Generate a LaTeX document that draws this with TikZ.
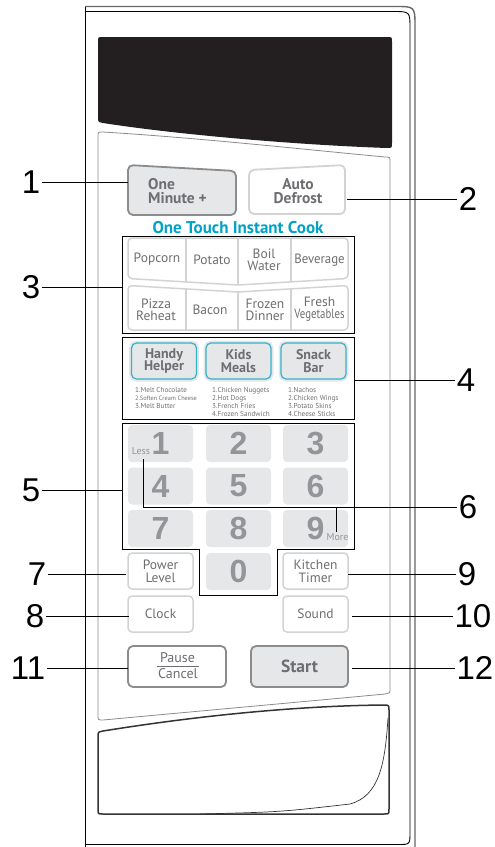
\documentclass[tikz,border=0pt]{standalone}
\usepackage{fontspec}
\setmainfont{PT Sans}
\newfontfamily\arialf{Liberation Sans}
\definecolor{txtgray}{HTML}{6D6E71}
\definecolor{keygray}{HTML}{E6E7E8}
\definecolor{diggray}{HTML}{939598}
\definecolor{brdgray}{HTML}{D1D3D4}
\definecolor{darkbrd}{HTML}{8C8C8C}
\definecolor{panelgray}{HTML}{8A8A8A}
\definecolor{tcyan}{HTML}{00A3C6}
\definecolor{bcyan}{HTML}{35B2CB}
\definecolor{dispblack}{HTML}{231F20}
\begin{document}
\begin{tikzpicture}[x=1pt,y=-1pt,
  callout/.style={font=\arialf\fontsize{33}{33}\selectfont, inner sep=1.5pt, text=black},
  calline/.style={draw=black, line width=0.9pt},
  grpbox/.style={draw=black, line width=0.9pt},
  wbtn/.style={draw=brdgray, line width=1.5pt, fill=white, rounded corners=4pt, minimum width=65pt, minimum height=36pt, inner sep=0pt, font=\fontsize{13.5}{12.6}\selectfont, text=txtgray, align=center},
  numkey/.style={fill=keygray, rounded corners=4pt, minimum width=65pt, minimum height=37pt, inner sep=0pt, font=\arialf\bfseries\fontsize{32}{32}\selectfont, text=diggray},
  cbtn/.style={fill=keygray, draw=bcyan, line width=1.2pt, rounded corners=5pt, minimum width=65pt, minimum height=36pt, inner sep=0pt, preaction={draw=keygray, line width=5pt}, font=\bfseries\fontsize{14}{12.8}\selectfont, text=txtgray, align=center},
  rtxt/.style={font=\fontsize{13.5}{12.3}\selectfont, text=txtgray, align=center, inner sep=0pt},
  btxt/.style={font=\bfseries\fontsize{15.5}{14.5}\selectfont, text=txtgray, inner sep=0pt},
  listtxt/.style={font=\fontsize{7.2}{8}\selectfont, text=txtgray, align=left, anchor=north west, inner sep=0pt},
  smalltxt/.style={font=\fontsize{10}{10}\selectfont, text=diggray, inner sep=0pt},
  sixtick/.style={draw=black, line width=0.9pt}
]
\useasboundingbox (0,0) rectangle (495,847);
% ---------- frame ----------
\draw[black, line width=0.9pt] (85,847) -- (85,6.5);
\draw[black!60, line width=1.4pt] (85,6.5) -- (395,6.5) .. controls (415,6.5) .. (415,26.5) -- (415,847);
\draw[black, line width=0.9pt] (85,11.5) -- (393,11.5) .. controls (410,11.5) .. (410,28.5) -- (410,832) .. controls (410,844.5) .. (398,844.5) -- (85,844.5);
% ---------- display ----------
\fill[dispblack] (98,42) .. controls (98,37) .. (103,37) -- (387,37) .. controls (392,37) .. (392,42) -- (392,143) .. controls (392,148) .. (387,148) .. controls (300,145) and (180,135) .. (103,123) .. controls (98,122) .. (98,117) -- cycle;
% ---------- panel ----------
\draw[panelgray, line width=0.8pt] (98,137) .. controls (98,132) .. (103,132) .. controls (200,138) and (300,149) .. (385,157) .. controls (390,157) .. (390,162) -- (390,688) .. controls (390,693) .. (385,694) .. controls (300,702) and (200,711) .. (103,720) .. controls (98,720) .. (98,715) -- cycle;
% ---------- drawer slot ----------
\draw[black!80, line width=1.5pt] (98,737) .. controls (98,732) .. (103,731) .. controls (190,717) and (290,706) .. (383,705) .. controls (389,705) .. (389,710) -- (389,809) .. controls (389,814) .. (384,814) -- (103,814) .. controls (98,814) .. (98,809) -- cycle;
\draw[black!80, line width=0.7pt] (200,814) .. controls (280,812) .. (350,804) .. controls (379,796) and (385,765) .. (388,718);
% ---------- top buttons ----------
\draw[darkbrd, fill=keygray, line width=1.8pt, rounded corners=5pt] (128,165) -- (236,171) -- (236,215) -- (128,215) -- cycle;
\node[btxt, align=left, anchor=west] (oneminute) at (148,191) {One\\Minute +};
\draw[brdgray, fill=white, line width=1.8pt, rounded corners=5pt] (249,170) -- (345,165) -- (345,214) -- (249,214) -- cycle;
\node[btxt, align=center] (autodefrost) at (298,191) {Auto\\Defrost};
\node[font=\bfseries\fontsize{17}{17}\selectfont, text=tcyan, inner sep=0pt] (onetouch) at (238,228) {One Touch Instant Cook};
% ---------- group 3 ----------
\draw[grpbox] (122,236) rectangle (354,333);
\draw[brdgray, line width=1.5pt, rounded corners=4pt] (128,238) -- (348,238) -- (348,278.5) -- (238,285) -- (128,278.5) -- cycle;
\draw[brdgray, line width=1.5pt, rounded corners=4pt] (128,285.5) -- (238,292) -- (348,285.5) -- (348,330) -- (128,330) -- cycle;
\draw[brdgray, line width=1.5pt] (186,238) -- (186,282) (238,238) -- (238,285) (291,238) -- (291,282);
\draw[brdgray, line width=1.5pt] (186,289) -- (186,330) (238,292) -- (238,330) (291,289) -- (291,330);
\node[rtxt] (popcorn) at (157,259) {Popcorn};
\node[rtxt] (potato) at (212,259.5) {Potato};
\node[rtxt] (boil) at (264,260) {Boil\\Water};
\node[rtxt] (beverage) at (319.5,260.5) {\scalebox{0.95}[1]{Beverage}};
\node[rtxt] (pizza) at (156,309.5) {Pizza\\Reheat};
\node[rtxt] (bacon) at (210,310) {Bacon};
\node[rtxt] (frozen) at (265,309.5) {Frozen\\Dinner};
\node[rtxt] (fresh) at (319.5,309.5) {Fresh\\\scalebox{0.8}[1]{Vegetables}};
% ---------- group 4 ----------
\draw[grpbox] (122,337) rectangle (354,419);
\node[cbtn] (handy) at (164,361) {Handy\\Helper};
\node[cbtn] (kids) at (238.5,361) {Kids\\Meals};
\node[cbtn] (snack) at (313.5,361) {Snack\\Bar};
\node[listtxt] (handylist) at (135,387.2) {1.Melt Chocolate\\{\fontsize{6.3}{8}\selectfont 2.Soften Cream Cheese}\\3.Melt Butter};
\node[listtxt] (kidslist) at (212,387.2) {1.Chicken Nuggets\\2.Hot Dogs\\3.French Fries\\4.Frozen Sandwich};
\node[listtxt] (snacklist) at (288,387.2) {1.Nachos\\2.Chicken Wings\\3.Potato Skins\\4.Cheese Sticks};
% ---------- keypad ----------
\draw[grpbox] (122,423) -- (354,423) -- (354,549) -- (277,549) -- (277,595) -- (199,595) -- (199,549) -- (122,549) -- cycle;
\node[numkey] (k1) at (160.5,443.5) {1};
\node[numkey] (k2) at (238.5,443.5) {2};
\node[numkey] (k3) at (315.5,443.5) {3};
\node[numkey] (k4) at (160.5,486) {4};
\node[numkey] (k5) at (238.5,486) {5};
\node[numkey] (k6) at (315.5,486) {6};
\node[numkey] (k7) at (160.5,528.5) {7};
\node[numkey] (k8) at (238.5,528.5) {8};
\node[numkey] (k9) at (315.5,528.5) {9};
\node[numkey] (k0) at (238.5,571.5) {0};
\node[smalltxt] (less) at (141,451.5) {Less};
\node[smalltxt] (more) at (337.5,537) {More};
% ---------- lower buttons ----------
\node[wbtn] (power) at (160.5,571) {Power\\Level};
\node[wbtn] (clock) at (160.5,614) {Clock};
\node[wbtn] (kitchen) at (315.5,571) {Kitchen\\Timer};
\node[wbtn] (sound) at (315.5,614) {Sound};
\node[draw=darkbrd, line width=1.8pt, fill=white, rounded corners=5pt, minimum width=98pt, minimum height=41pt] (pause) at (177,666.5) {};
\node[rtxt, font=\fontsize{14}{14}\selectfont] (pausetxt) at (177.5,658) {Pause};
\node[rtxt, font=\fontsize{14}{14}\selectfont] (canceltxt) at (178,673.5) {Cancel};
\coordinate (pl1) at (156.5,666);
\coordinate (pl2) at (199,666);
\draw[txtgray, line width=0.8pt] (pl1) -- (pl2);
\node[draw=darkbrd, line width=1.8pt, fill=keygray, rounded corners=5pt, minimum width=97pt, minimum height=41pt, font=\bfseries\fontsize{17.5}{17.5}\selectfont, text=txtgray] (start) at (299.5,666.5) {Start};
% ---------- callouts ----------
\node[callout] (n1) at (31,182) {1};
\node[callout] (n2) at (468,199) {2};
\node[callout] (n3) at (31,287) {3};
\node[callout] (n4) at (466,380) {4};
\node[callout] (n5) at (31,490) {5};
\node[callout] (n6) at (468,507) {6};
\node[callout] (n7) at (37,574) {7};
\node[callout] (n8) at (35,616) {8};
\node[callout] (n9) at (467,574) {9};
\node[callout] (n10) at (473,616) {10};
\node[callout] (n11) at (28,668) {11};
\node[callout] (n12) at (475,668) {12};
\coordinate (e1) at (128,182);
\coordinate (e2) at (347,199);
\coordinate (e3) at (122,287);
\coordinate (e4) at (354,380);
\coordinate (e5) at (123,490);
\coordinate (e7) at (126,574);
\coordinate (e8) at (129,616);
\coordinate (e9) at (348,574);
\coordinate (e10) at (352,616);
\coordinate (e11) at (128,668);
\coordinate (e12) at (352,668);
\coordinate (l6a) at (143,507);
\coordinate (l6b) at (143,459);
\coordinate (m6a) at (336,507);
\coordinate (m6b) at (336,532);
\draw[calline] (n1) -- (e1);
\draw[calline] (n2) -- (e2);
\draw[calline] (n3) -- (e3);
\draw[calline] (n4) -- (e4);
\draw[calline] (n5) -- (e5);
\draw[calline] (n6) -- (l6a) -- (l6b);
\draw[sixtick] (m6a) -- (m6b);
\draw[calline] (n7) -- (e7);
\draw[calline] (n8) -- (e8);
\draw[calline] (n9) -- (e9);
\draw[calline] (n10) -- (e10);
\draw[calline] (n11) -- (e11);
\draw[calline] (n12) -- (e12);
\end{tikzpicture}
\end{document}
